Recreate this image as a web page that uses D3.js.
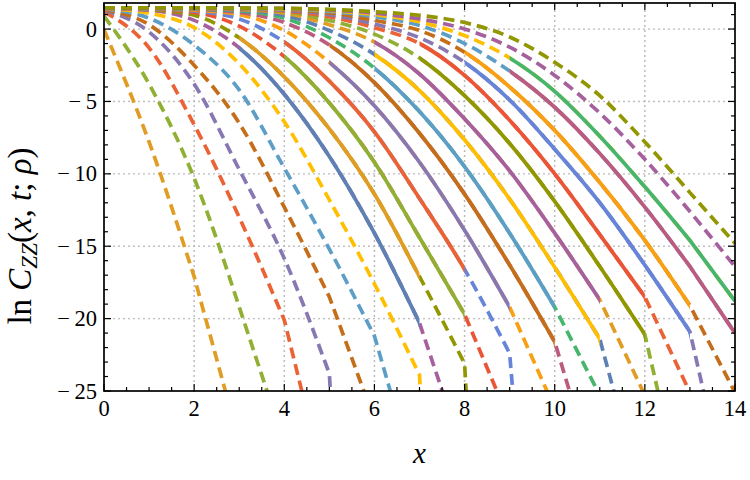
<!DOCTYPE html>
<html><head><meta charset="utf-8">
<script src="https://cdn.jsdelivr.net/npm/d3@7"></script>
<style>body{margin:0;background:#fff}svg{display:block}</style>
</head><body>
<svg id="c" width="750" height="480"></svg>
<script>
// lattice sites x = 0..14 ; values ln C_ZZ
const sites = d3.range(0, 15);
const xTicks = [0, 2, 4, 6, 8, 10, 12, 14];
const yTicks = [0, -5, -10, -15, -20, -25];
const palette = ["#5E81B5","#E19C24","#8FB032","#EB6235","#8778B3","#C56E1A","#5D9EC7","#FFBF00","#A5609D","#929600","#E95536","#6685D9","#F89F13","#BC5B80","#47B66D"];

// dashed curves (series 2..25)
const d02 = [-0.05, -7.8, -17.1, -28.5];
const d03 = [0.9, -3.8, -10.3, -19.2, -28.6];
const d04 = [1.2, -1.3, -6.6, -13.0, -20.1, -32.7];
const d05 = [1.3, -0.2, -3.8, -9.7, -15.85, -23.8, -80];
const d06 = [1.35, 0.3, -2.5, -6.5, -12.3, -18.5, -27];
const d07 = [1.4, 0.75, -1.1, -4.2, -9.6, -15.2, -21.2, -32];
const d08 = [1.4, 1.1, 0.1, -2.4, -6.4, -11.8, -17.6, -23.9, -80];
const d09 = [1.42, 1.3, 0.6, -1.3, -4.5, -8.8, -14.1, -20.3, -29.6];
const d10 = [1.43, 1.35, 0.95, -0.6, -3.3, -6.9, -11.4, -17.1, -23.1, -80];
const d11 = [1.43, 1.38, 1.15, 0.2, -1.9, -5.1, -9.2, -14.4, -19.7, -27.1];
const d12 = [1.43, 1.4, 1.25, 0.7, -0.9, -3.6, -7.1, -11.7, -16.6, -22.4, -60];
const d13 = [1.44, 1.41, 1.3, 1.0, -0.1, -2.3, -5.3, -9.2, -13.9, -19.2, -26.2];
const d14 = [1.44, 1.42, 1.35, 1.15, 0.45, -1.1, -3.7, -7.2, -11.4, -16.3, -21.6, -32];
const d15 = [1.44, 1.43, 1.38, 1.25, 0.75, -0.6, -2.7, -5.7, -9.5, -14.1, -19.2, -25.3];
const d16 = [1.45, 1.43, 1.4, 1.3, 0.95, -0.1, -1.75, -4.25, -7.65, -11.75, -16.45, -21.4, -33];
const d17 = [1.45, 1.44, 1.42, 1.35, 1.1, 0.3, -0.9, -3.1, -6.2, -9.8, -14.1, -18.7, -25.3];
const d18 = [1.45, 1.44, 1.43, 1.38, 1.2, 0.6, -0.35, -2.0, -4.6, -7.9, -11.9, -16.4, -21.1, -34.6];
const d19 = [1.45, 1.45, 1.43, 1.4, 1.25, 0.85, 0.1, -1.0, -3.2, -6.3, -10.0, -14.2, -18.5, -25.1];
const d20 = [1.45, 1.45, 1.44, 1.42, 1.3, 1.0, 0.35, -0.6, -2.3, -4.9, -8.3, -12.0, -16.3, -20.9, -34.6];
const d21 = [1.45, 1.45, 1.44, 1.43, 1.35, 1.12, 0.6, -0.1, -1.6, -4.0, -7.0, -10.6, -14.6, -19.1, -25.1];
const d22 = [1.45, 1.45, 1.45, 1.43, 1.38, 1.22, 0.85, 0.25, -1.0, -2.9, -5.4, -8.6, -12.3, -16.4, -21.0];
const d23 = [1.45, 1.45, 1.45, 1.44, 1.4, 1.28, 1.0, 0.5, -0.45, -2.0, -4.3, -7.4, -10.9, -14.6, -18.8];
const d24 = [1.45, 1.45, 1.45, 1.44, 1.42, 1.32, 1.1, 0.7, 0.0, -1.25, -3.2, -5.8, -9.0, -12.6, -16.4];
const d25 = [1.46, 1.46, 1.46, 1.45, 1.43, 1.36, 1.2, 0.95, 0.45, -0.55, -2.3, -4.6, -7.8, -11.3, -14.8];
const dashedCurves = [d02,d03,d04,d05,d06,d07,d08,d09,d10,d11,d12,d13,d14,d15,d16,d17,d18,d19,d20,d21,d22,d23,d24,d25];

// solid curves 1..15 overlay dashed curves 9..23 on the site range [from, to]
const solidFrom = [3,3,4,4,5,5,6,6,6,7,7,8,8,9,9];
const solidTo   = [7,7,8,8,9,10,10,11,11,12,12,13,13,14,14];

const L = 104, R = 735, T = 3, B = 391;
const x = d3.scaleLinear().domain([0, 14]).range([L, R]);
const y = d3.scaleLinear().domain([-25, 1.8]).range([B, T]);

const svg = d3.select("#c");
const defs = svg.append("defs");
defs.append("clipPath").attr("id", "clip")
  .append("rect").attr("x", L).attr("y", T).attr("width", R - L).attr("height", B - T);
for (let j = 0; j < 15; j++) {
  defs.append("clipPath").attr("id", "sc" + j).append("rect")
    .attr("x", x(solidFrom[j])).attr("y", -200)
    .attr("width", x(solidTo[j]) - x(solidFrom[j])).attr("height", 900);
}

// grid
const grid = svg.append("g").attr("stroke", "#b4b4b4").attr("stroke-width", 1.8)
  .attr("stroke-linecap", "round").attr("stroke-dasharray", "0,5");
xTicks.filter(v => v > 0 && v < 14).forEach(v =>
  grid.append("line").attr("x1", x(v)).attr("x2", x(v)).attr("y1", B).attr("y2", T));
yTicks.filter(v => v > -25).forEach(v =>
  grid.append("line").attr("y1", y(v)).attr("y2", y(v)).attr("x1", L).attr("x2", R));

const smooth = d3.line().x(d => x(d[0])).y(d => y(d[1])).curve(d3.curveMonotoneX);
function pathFor(vals) {
  const pts = vals.map((v, j) => [sites[j], v]);
  const last = pts[pts.length - 1];
  return smooth(pts.slice(0, -1)) + "L" + x(last[0]) + "," + y(last[1]);
}

const plot = svg.append("g").attr("clip-path", "url(#clip)").attr("fill", "none");
const paths = dashedCurves.map(pathFor);
paths.forEach((p, i) => {
  const k = i + 2;
  plot.append("path").attr("d", p)
    .attr("stroke", palette[(k - 1) % 15]).attr("stroke-width", 3.7)
    .attr("stroke-dasharray", "11,6");
});
for (let j = 0; j < 15; j++) {
  plot.append("g").attr("clip-path", "url(#sc" + j + ")")
    .append("path").attr("d", paths[j + 7])
    .attr("stroke", palette[j]).attr("stroke-width", 3.8);
}

// frame and ticks
const ax = svg.append("g").attr("stroke", "#000");
ax.append("rect").attr("x", L).attr("y", T).attr("width", R - L).attr("height", B - T)
  .attr("fill", "none").attr("stroke-width", 1.7);
d3.range(0, 14.001, 0.5).forEach(v => {
  const len = (v % 2 === 0) ? 7 : 4;
  ax.append("line").attr("x1", x(v)).attr("x2", x(v)).attr("y1", B).attr("y2", B - len).attr("stroke-width", 1.2);
  ax.append("line").attr("x1", x(v)).attr("x2", x(v)).attr("y1", T).attr("y2", T + len).attr("stroke-width", 1.2);
});
d3.range(-25, 1.001, 1).forEach(v => {
  const len = (v % 5 === 0) ? 7 : 4;
  ax.append("line").attr("y1", y(v)).attr("y2", y(v)).attr("x1", L).attr("x2", L + len).attr("stroke-width", 1.2);
  ax.append("line").attr("y1", y(v)).attr("y2", y(v)).attr("x1", R).attr("x2", R - len).attr("stroke-width", 1.2);
});

const font = "'Liberation Serif', 'DejaVu Serif', serif";
const fmt = v => (v < 0 ? "\u2212\u2009" + Math.abs(v) : String(v));
svg.append("g").selectAll("text").data(xTicks).join("text")
  .attr("x", d => x(d)).attr("y", 416).attr("text-anchor", "middle")
  .attr("font-family", font).attr("font-size", 22.5).text(d => fmt(d));
svg.append("g").selectAll("text").data(yTicks).join("text")
  .attr("x", 97).attr("y", d => y(d) + 7.5).attr("text-anchor", "end")
  .attr("font-family", font).attr("font-size", 22.5).text(d => fmt(d));

svg.append("text").attr("x", (L + R) / 2).attr("y", 463).attr("text-anchor", "middle")
  .attr("font-family", font).attr("font-size", 29).attr("font-style", "italic").text("x");

const yl = svg.append("text").attr("transform", "translate(31,236) rotate(-90)")
  .attr("text-anchor", "middle").attr("font-family", font).attr("font-size", 33);
yl.append("tspan").text("ln ");
yl.append("tspan").attr("font-style", "italic").text("C");
yl.append("tspan").attr("font-style", "italic").attr("font-size", 23).attr("dy", 6).text("ZZ");
yl.append("tspan").attr("dy", -6).text("(");
yl.append("tspan").attr("font-style", "italic").text("x");
yl.append("tspan").text(", ");
yl.append("tspan").attr("font-style", "italic").text("t");
yl.append("tspan").text("; ");
yl.append("tspan").attr("font-style", "italic").text("\u03C1");
yl.append("tspan").text(")");
</script>
</body></html>
